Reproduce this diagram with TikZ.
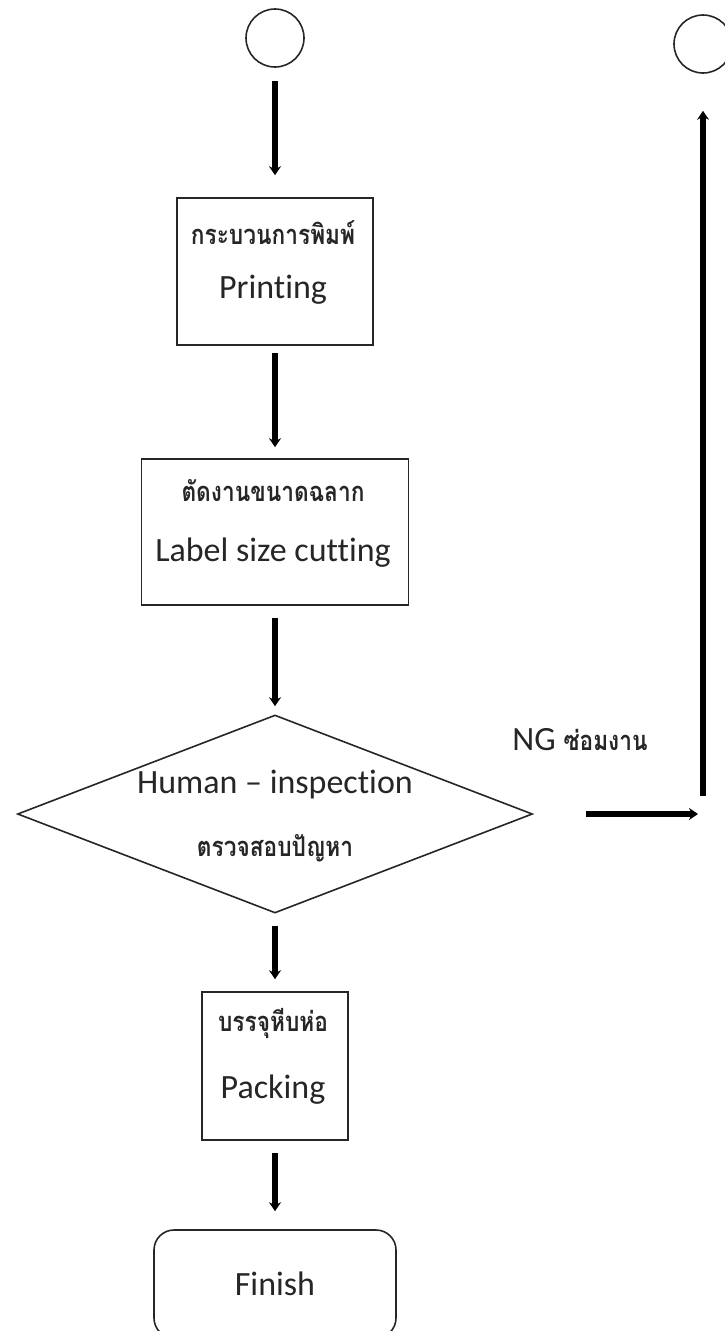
\documentclass[tikz,border=0pt]{standalone}
\usepackage{fontspec}
\usepackage{graphicx}
\setmainfont{Carlito}[Ligatures=NoCommon]
\newfontfamily\thaifont[Script=Thai]{Loma}
\newcommand{\thtall}[1]{\scalebox{1.08}[1.3]{#1}}
\usetikzlibrary{arrows.meta,shapes.geometric}
\begin{document}
\begin{tikzpicture}[x=1pt,y=-1pt,>={Stealth[length=9pt,width=12pt]},
		flow/.style={->,line width=5.4pt},
		stepbox/.style={draw=black!85,line width=1.6pt,inner sep=0pt},
		entext/.style={font=\fontsize{34}{40}\selectfont,text=black!85},
		thtext/.style={font=\thaifont\bfseries\fontsize{21}{26}\selectfont,text=black!85}]
		\useasboundingbox (0,0) rectangle (725,1331);
		\node[stepbox,circle,minimum size=58pt] (start) at (275,38) {};
		\node[stepbox,circle,minimum size=58pt] (restart) at (703,44) {};
		\node[stepbox,minimum width=196pt,minimum height=147pt] (print) at (275,271.5) {};
		\node[thtext] (printth) at (273,233) {\thtall{กระบวนการพิมพ์}};
		\node[entext] (printen) at (273,290) {Printing};
		\node[stepbox,minimum width=267pt,minimum height=146pt] (cut) at (275,532) {};
		\node[thtext] (cutth) at (273,491) {\thtall{ตัดงานขนาดฉลาก}};
		\node[entext] (cuten) at (273,553) {Label size cutting};
		\node[stepbox,diamond,minimum width=515pt,minimum height=198pt] (inspect) at (275,814) {};
		\node[entext] (inspen) at (275,785) {Human – inspection};
		\node[thtext] (inspth) at (275,848) {\thtall{ตรวจสอบปัญหา}};
		\node[stepbox,minimum width=146pt,minimum height=148pt] (pack) at (275,1066) {};
		\node[thtext] (packth) at (273,1023) {\thtall{บรรจุหีบห่อ}};
		\node[entext] (packen) at (273,1090) {Packing};
		\node[stepbox,rounded corners=20pt,minimum width=242pt,minimum height=108pt,entext] (finish) at (275,1284) {Finish};
		\node[entext] (ng) at (580,740) {NG {\thaifont\bfseries\fontsize{21}{26}\selectfont\thtall{ซ่อมงาน}}};
		\draw[flow,shorten <=13pt,shorten >=22pt] (start) -- (print);
		\draw[flow,shorten <=7pt,shorten >=11pt] (print) -- (cut);
		\draw[flow,shorten <=12pt,shorten >=8pt] (cut) -- (inspect);
		\draw[flow,shorten <=12pt,shorten >=12pt] (inspect) -- (pack);
		\draw[flow,shorten <=12pt,shorten >=18pt] (pack) -- (finish);
		\coordinate (ngtip) at (698,814);
		\draw[flow,shorten <=53pt] (inspect.east) -- (ngtip);
		\coordinate (ngfoot) at (703,796);
		\draw[flow,shorten >=37pt] (ngfoot) -- (restart);
	\end{tikzpicture}
\end{document}
